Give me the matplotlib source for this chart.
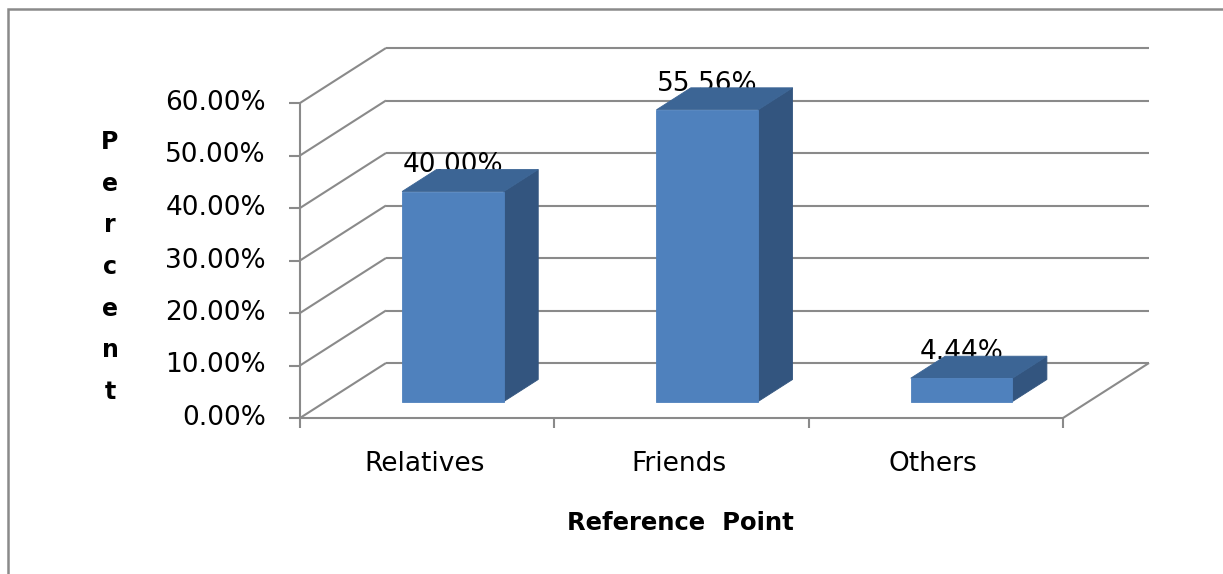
import matplotlib
matplotlib.use("Agg")
import matplotlib.pyplot as plt
from matplotlib.patches import Polygon, Rectangle

categories = ["Relatives", "Friends", "Others"]
shares = [0.40, 0.5556, 0.0444]
share_labels = ["40.00%", "55.56%", "4.44%"]
y_ticks = [0.0, 0.1, 0.2, 0.3, 0.4, 0.5, 0.6]
y_tick_labels = ["0.00%", "10.00%", "20.00%", "30.00%", "40.00%", "50.00%", "60.00%"]

W, H = 1223, 574
PX_X = 254.33          # pixels per category
PX_Y = 525.0           # pixels per unit of share
ORIGIN = (300, 418)    # front-left floor corner, pixels from top-left
DEPTH = (86 / PX_X, 55 / PX_Y)   # oblique offset of full depth, data units

GRID = "#8A8A8A"
FRONT = "#4F81BD"
TOP = "#3C6595"
SIDE = "#33557F"


def proj(x, v, d=0.0):
    return (x + DEPTH[0] * d, v + DEPTH[1] * d)


fig = plt.figure(figsize=(W / 100, H / 100), dpi=100)
ax = fig.add_axes([0, 0, 1, 1])
ax.set_xlim(-ORIGIN[0] / PX_X, (W - ORIGIN[0]) / PX_X)
ax.set_ylim(-(H - ORIGIN[1]) / PX_Y, ORIGIN[1] / PX_Y)
ax.axis("off")

# chart area border (runs off the right and bottom edge)
fig.add_artist(Rectangle((8 / W, -0.1), 1.2, 1.1 - 9.5 / H, transform=fig.transFigure,
                         fill=False, edgecolor="#8A8A8A", lw=1.8))

ncat = len(categories)
line_kw = dict(color=GRID, lw=1.5, zorder=1, solid_capstyle="butt")

# left wall: front axis, diagonals and back gridlines
ax.plot(*zip(proj(0, y_ticks[0]), proj(0, y_ticks[-1])), **line_kw)
for v, tl in zip(y_ticks, y_tick_labels):
    ax.plot(*zip(proj(0, v), proj(0, v, 1)), **line_kw)
    ax.plot(*zip(proj(0, v, 1), proj(ncat, v, 1)), **line_kw)
    ax.plot(*zip(proj(0, v), proj(-11 / PX_X, v)), **line_kw)
    ax.text(-34 / PX_X, v, tl, ha="right", va="center", fontsize=19, color="black")

# floor front edge and right edge
ax.plot(*zip(proj(0, 0), proj(ncat, 0)), **line_kw)
ax.plot(*zip(proj(ncat, 0), proj(ncat, 0, 1)), **line_kw)
for i in range(ncat + 1):
    ax.plot([i, i], [0, -10 / PX_Y], **line_kw)

# bars: gap width 150%, gap depth 150%
bw, d0, d1 = 0.4, 0.3, 0.7
for i, (val, lab) in enumerate(zip(shares, share_labels)):
    x0, x1 = i + 0.5 - bw / 2, i + 0.5 + bw / 2
    side = [proj(x1, 0, d0), proj(x1, 0, d1), proj(x1, val, d1), proj(x1, val, d0)]
    top = [proj(x0, val, d0), proj(x1, val, d0), proj(x1, val, d1), proj(x0, val, d1)]
    front = [proj(x0, 0, d0), proj(x1, 0, d0), proj(x1, val, d0), proj(x0, val, d0)]
    for verts, col in [(side, SIDE), (top, TOP), (front, FRONT)]:
        ax.add_patch(Polygon(verts, closed=True, facecolor=col, edgecolor=col,
                             lw=0.6, zorder=3))
    lx, _ = proj(i + 0.5, val, d0)
    ax.text(lx, proj(0, val, d1)[1] - 3 / PX_Y, lab, ha="center", va="baseline",
            fontsize=19, color="black", zorder=2)
    ax.text(i + 0.5 - 3 / PX_X, -46 / PX_Y, categories[i], ha="center", va="center",
            fontsize=19, color="black")

ax.text(380 / PX_X, -105 / PX_Y, "Reference  Point", ha="center", va="center",
        fontsize=17.5, fontweight="bold")
ax.text(-190 / PX_X, 151 / PX_Y, "\n".join("Percent"), ha="center", va="center",
        fontsize=17, fontweight="bold", linespacing=1.93)

fig.savefig("out.png", dpi=100)
